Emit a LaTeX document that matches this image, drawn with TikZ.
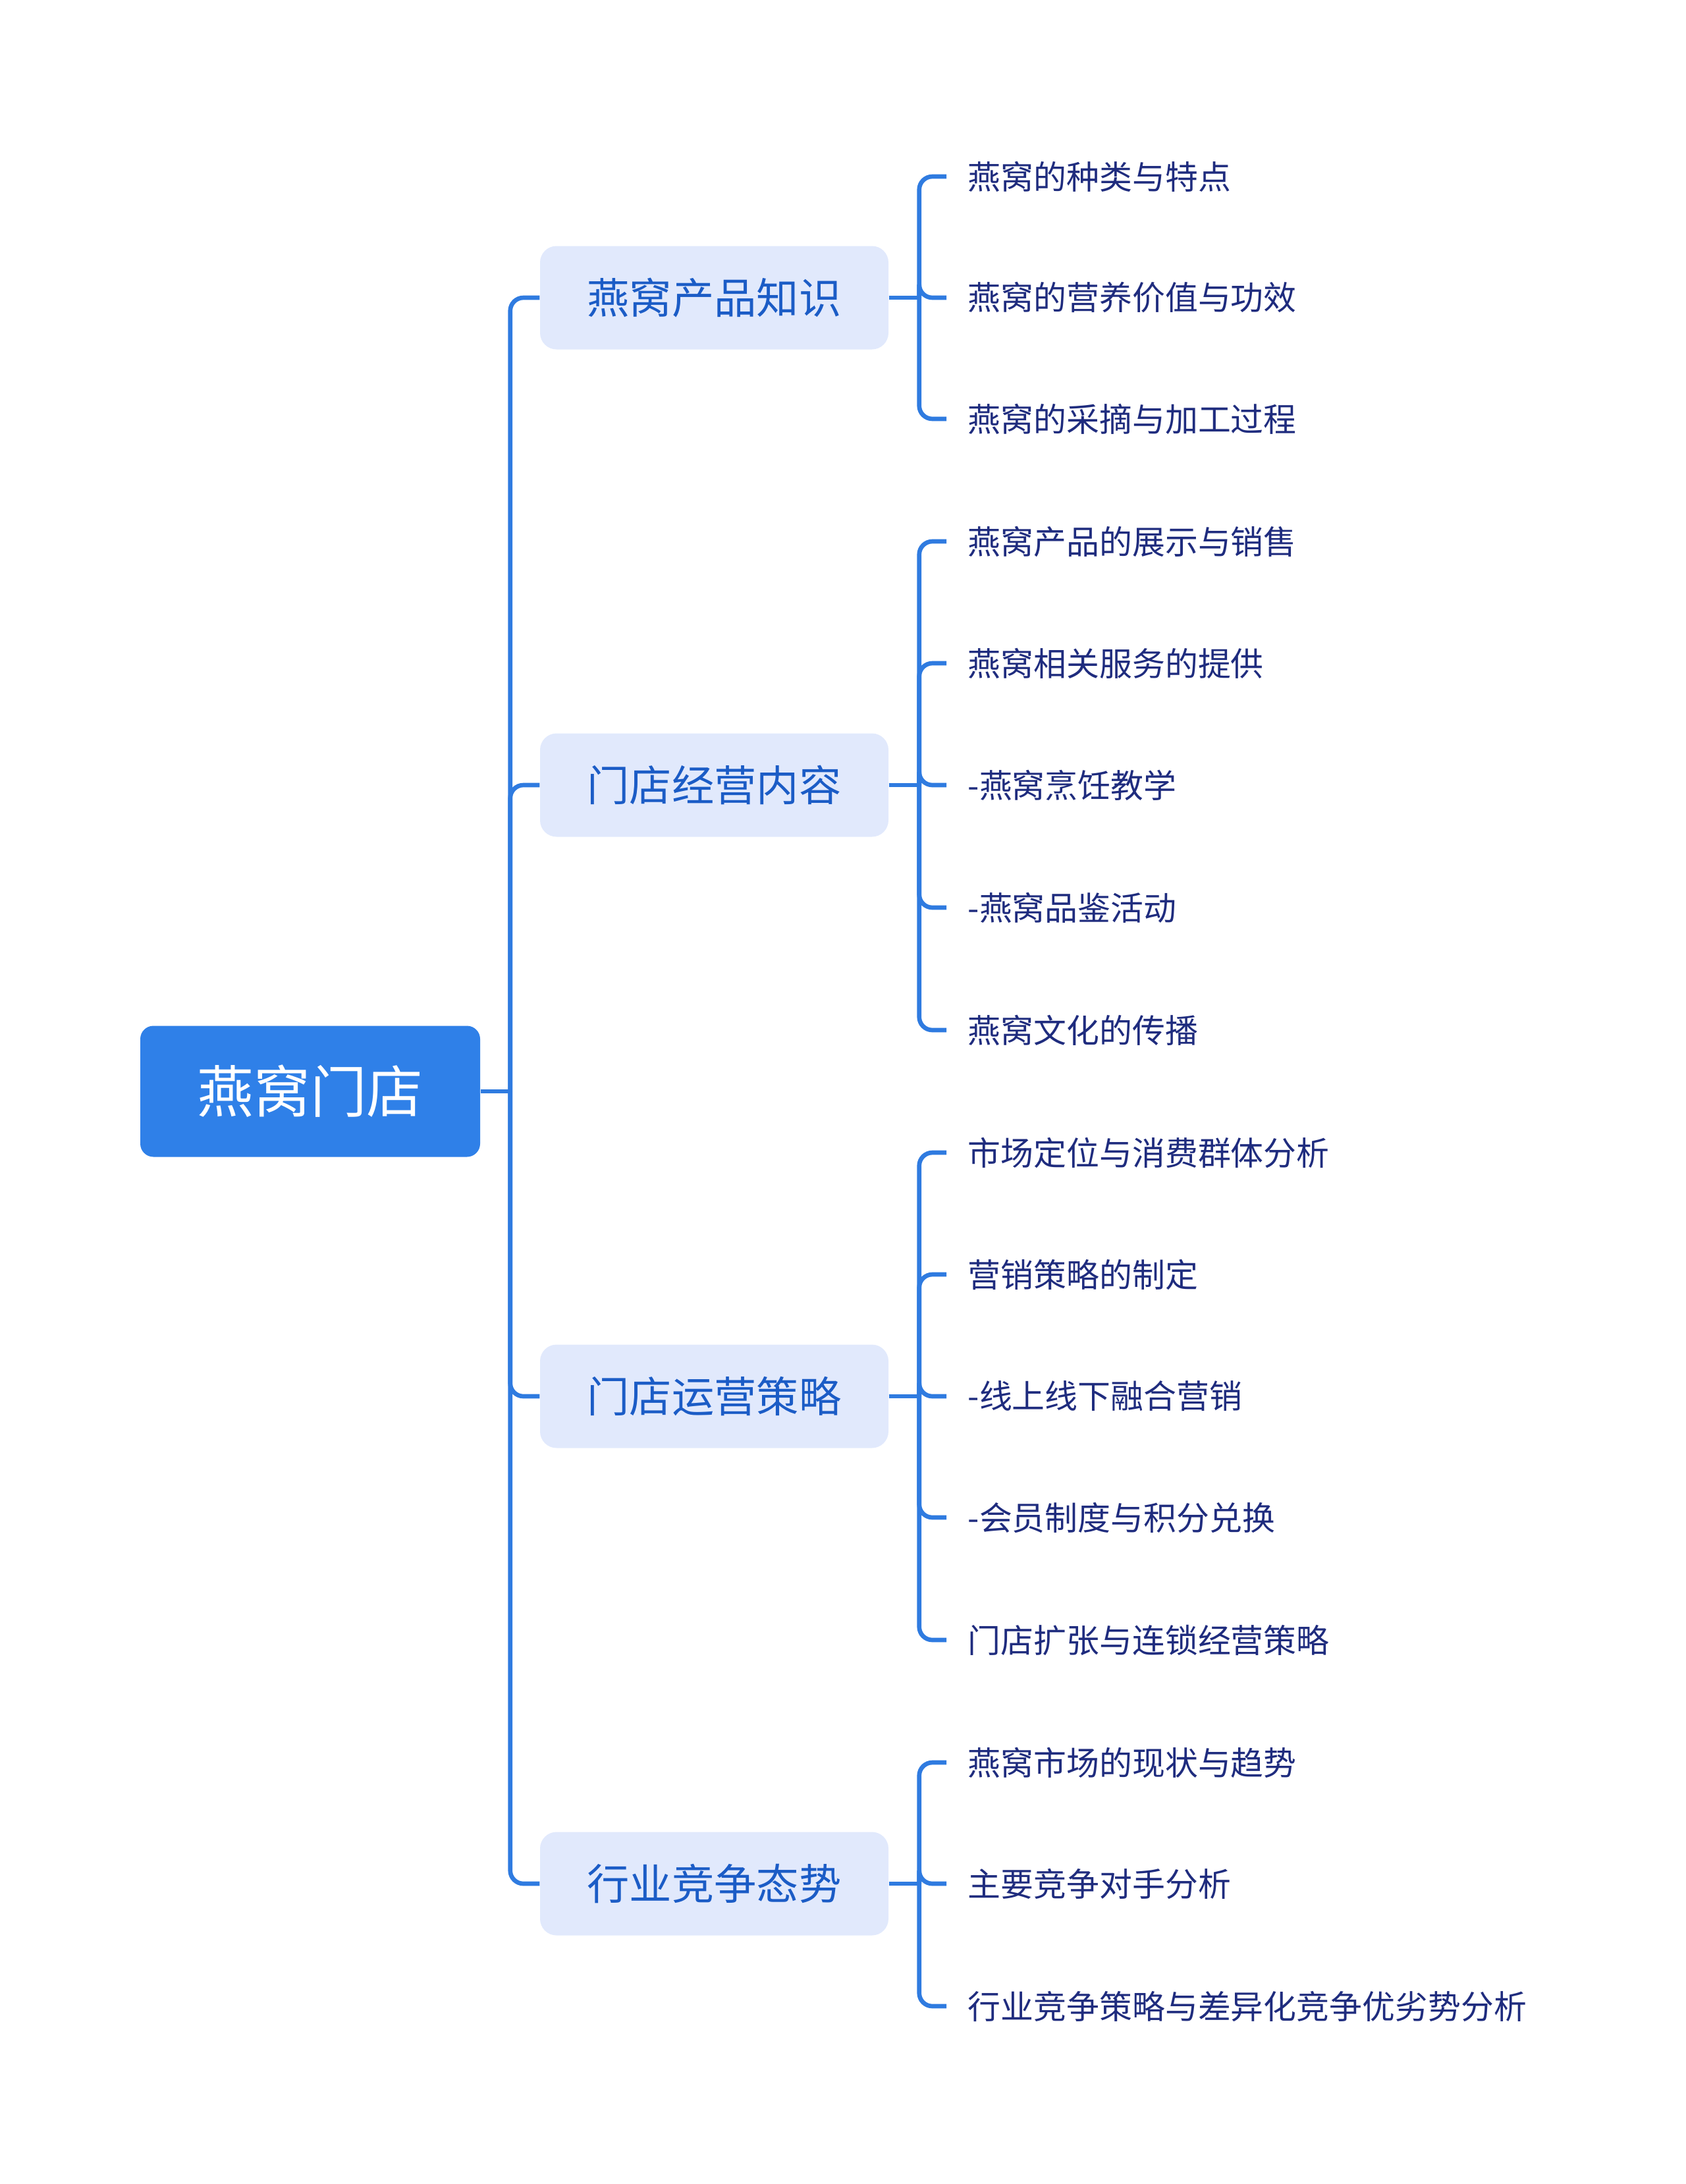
\documentclass[tikz,border=0pt]{standalone}
\usepackage{fontspec}
\setmainfont{Noto Sans CJK SC}
\usepackage{tikz}
\usetikzlibrary{positioning, calc}

\definecolor{rootblue}{HTML}{2F80E8}
\definecolor{linkblue}{HTML}{2F7BE0}
\definecolor{topicfill}{HTML}{E1E9FC}
\definecolor{topictext}{HTML}{1B5CC6}
\definecolor{leaftext}{HTML}{1F2C7E}

\tikzset{
  rootbox/.style={rectangle, rounded corners=0.2cm, fill=rootblue, text=white,
        minimum width=5.16cm, minimum height=1.99cm, font=\fontsize{24.4}{28}\selectfont},
  topicbox/.style={rectangle, rounded corners=0.25cm, fill=topicfill, text=topictext,
        minimum width=5.29cm, minimum height=1.57cm, font=\fontsize{18.3}{22}\selectfont},
  leafbox/.style={anchor=west, inner xsep=0.32cm, inner ysep=0.1cm, text=leaftext,
        font=\fontsize{14.2}{17}\selectfont},
  link/.style={draw=linkblue, line width=1.9pt, rounded corners=0.2cm}
}

\begin{document}
\begin{tikzpicture}
  \useasboundingbox (0,0) rectangle (25.6,-33.16);

  % Root
  \node[rootbox] (root) at (4.71,-16.57) {燕窝门店};

  % Main topics
  \node[topicbox] (k1) at (10.845,-4.52)  {燕窝产品知识};
  \node[topicbox] (k2) at (10.845,-11.92) {门店经营内容};
  \node[topicbox] (k3) at (10.845,-21.20) {门店运营策略};
  \node[topicbox] (k4) at (10.845,-28.60) {行业竞争态势};

  % Leaves of k1
  \node[leafbox] (a1) at (14.37,-2.68) {燕窝的种类与特点};
  \node[leafbox] (a2) at (14.37,-4.52) {燕窝的营养价值与功效};
  \node[leafbox] (a3) at (14.37,-6.36) {燕窝的采摘与加工过程};

  % Leaves of k2
  \node[leafbox] (b1) at (14.37,-8.22)  {燕窝产品的展示与销售};
  \node[leafbox] (b2) at (14.37,-10.07) {燕窝相关服务的提供};
  \node[leafbox] (b3) at (14.37,-11.92) {-燕窝烹饪教学};
  \node[leafbox] (b4) at (14.37,-13.78) {-燕窝品鉴活动};
  \node[leafbox] (b5) at (14.37,-15.64) {燕窝文化的传播};

  % Leaves of k3
  \node[leafbox] (c1) at (14.37,-17.50) {市场定位与消费群体分析};
  \node[leafbox] (c2) at (14.37,-19.35) {营销策略的制定};
  \node[leafbox] (c3) at (14.37,-21.20) {-线上线下融合营销};
  \node[leafbox] (c4) at (14.37,-23.04) {-会员制度与积分兑换};
  \node[leafbox] (c5) at (14.37,-24.90) {门店扩张与连锁经营策略};

  % Leaves of k4
  \node[leafbox] (d1) at (14.37,-26.76) {燕窝市场的现状与趋势};
  \node[leafbox] (d2) at (14.37,-28.60) {主要竞争对手分析};
  \node[leafbox] (d3) at (14.37,-30.46) {行业竞争策略与差异化竞争优劣势分析};

  % Junctions
  \coordinate (tj) at ($(root.east)+(0.45,0)$);
  \coordinate (j1) at ($(k1.east)+(0.46,0)$);
  \coordinate (j2) at ($(k2.east)+(0.46,0)$);
  \coordinate (j3) at ($(k3.east)+(0.46,0)$);
  \coordinate (j4) at ($(k4.east)+(0.46,0)$);

  % Root to topics
  \draw[link] (root.east) -- (tj);
  \foreach \k in {k1,k2,k3,k4}
    \draw[link] (tj) |- (\k.west);

  % Topics to leaves
  \draw[link] (k1.east) -- (j1);
  \foreach \l in {a1,a2,a3}
    \draw[link] (j1) |- (\l.west);
  \draw[link] (k2.east) -- (j2);
  \foreach \l in {b1,b2,b3,b4,b5}
    \draw[link] (j2) |- (\l.west);
  \draw[link] (k3.east) -- (j3);
  \foreach \l in {c1,c2,c3,c4,c5}
    \draw[link] (j3) |- (\l.west);
  \draw[link] (k4.east) -- (j4);
  \foreach \l in {d1,d2,d3}
    \draw[link] (j4) |- (\l.west);
\end{tikzpicture}
\end{document}
